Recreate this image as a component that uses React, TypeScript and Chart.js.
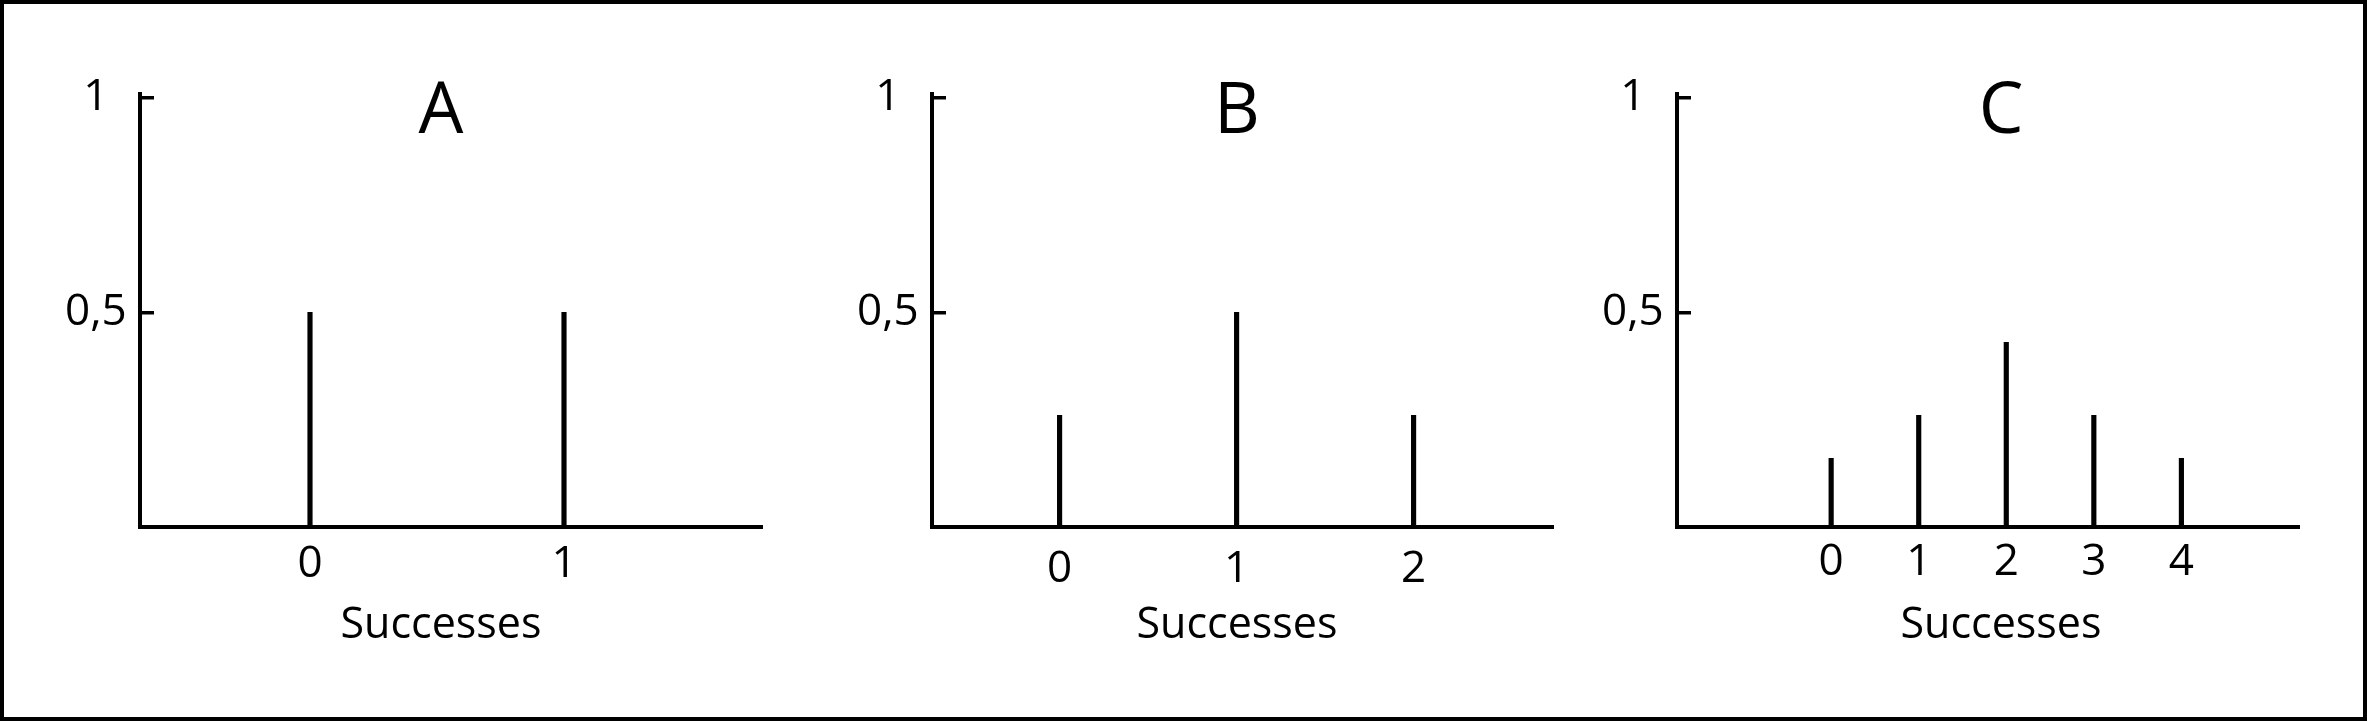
import React, { useEffect, useRef } from 'react';
import { Chart, registerables } from 'chart.js';

Chart.register(...registerables);

const FONT = '"Open Sans", "DejaVu Sans", sans-serif';

// ---- data ----
const categoriesA = [0, 1];
const valuesA = [0.5, 0.5];
const categoriesB = [0, 1, 2];
const valuesB = [0.26, 0.5, 0.26];
const categoriesC = [0, 1, 2, 3, 4];
const valuesC = [0.16, 0.26, 0.43, 0.26, 0.16];
const yTickValues = [0.5, 1];
const yTickLabels = ['0,5', '1'];
const panelTitles = ['A', 'B', 'C'];
const xAxisTitle = 'Successes';

// ---- layout (positions / sizes only) ----
const CANVAS_W = 800;
const CANVAS_H = 721;
const X_SCALE_H = 73.2;
const panels = [
  { title: panelTitles[0], cats: categoriesA, vals: valuesA, left: 41, yWidth: 99, rightPad: 80, xMin: -0.6693, xMax: 1.7756, xPad: 11.2 },
  { title: panelTitles[1], cats: categoriesB, vals: valuesB, left: 837, yWidth: 95, rightPad: 85.4, xMin: -0.7209, xMax: 2.7797, xPad: 15.7 },
  { title: panelTitles[2], cats: categoriesC, vals: valuesC, left: 1601, yWidth: 76, rightPad: 103, xMin: -1.7606, xMax: 5.3317, xPad: 9.4 },
];

function Panel({ p }: { p: any }) {
  const ref = useRef<HTMLCanvasElement>(null);
  useEffect(() => {
    if (!ref.current) return;
    const chart = new Chart(ref.current, {
      type: 'bar',
      data: {
        datasets: [
          {
            data: p.cats.map((c: number, i: number) => ({ x: c, y: p.vals[i] })),
            backgroundColor: '#000',
            borderWidth: 0,
            barThickness: 4.5,
            xAxisID: 'x',
            yAxisID: 'y',
          } as any,
        ],
      },
      options: {
        animation: false,
        responsive: false,
        maintainAspectRatio: false,
        devicePixelRatio: 1,
        events: [],
        layout: { padding: 0 },
        plugins: {
          legend: { display: false },
          tooltip: { enabled: false },
          title: {
            display: true,
            text: p.title,
            position: 'top',
            fullSize: true,
            align: 'center',
            color: '#000',
            font: { family: FONT, size: 71, weight: 'normal', lineHeight: 1 },
            padding: { top: 77, bottom: -54.5 },
          },
          subtitle: {
            display: true,
            text: xAxisTitle,
            position: 'bottom',
            fullSize: true,
            align: 'center',
            color: '#000',
            font: { family: FONT, size: 43, weight: 'normal', lineHeight: 1.2 },
            padding: { top: 0, bottom: 69.2 },
          },
        },
        scales: {
          x: {
            type: 'linear',
            position: 'bottom',
            min: p.xMin,
            max: p.xMax,
            bounds: 'data',
            offset: false,
            afterBuildTicks: (s: any) => {
              s.ticks = p.cats.map((v: number) => ({ value: v }));
            },
            afterFit: (s: any) => {
              s.height = X_SCALE_H;
            },
            ticks: {
              color: '#000',
              font: { family: FONT, size: 44 },
              padding: p.xPad,
              maxRotation: 0,
              minRotation: 0,
              autoSkip: false,
              callback: (v: any) => String(v),
            },
            grid: { display: true, offset: false, drawOnChartArea: false, drawTicks: false, lineWidth: 4, color: '#000' },
            border: { display: true, width: 4, color: '#000' },
          },
          y: {
            type: 'linear',
            position: 'left',
            min: 0,
            max: 1.01,
            bounds: 'data',
            afterBuildTicks: (s: any) => {
              s.ticks = yTickValues.map((v) => ({ value: v }));
            },
            afterFit: (s: any) => {
              s.width = p.yWidth;
            },
            ticks: {
              color: '#000',
              font: { family: FONT, size: 44 },
              padding: 27.3,
              crossAlign: 'center',
              callback: (v: any) => {
                const i = yTickValues.indexOf(v);
                return i >= 0 ? yTickLabels[i] : '';
              },
            },
            grid: {
              display: true,
              drawOnChartArea: false,
              drawTicks: true,
              tickLength: -14,
              tickWidth: 3.5,
              tickColor: '#000',
              lineWidth: 3.5,
              color: '#000',
            },
            border: { display: true, width: 4, color: '#000' },
          },
          yR: {
            type: 'linear',
            position: 'right',
            display: true,
            ticks: { display: false },
            grid: { display: false, drawTicks: false },
            border: { display: false },
            afterFit: (s: any) => {
              s.width = p.rightPad;
            },
          },
        },
      } as any,
    });
    return () => chart.destroy();
  }, []);
  return (
    <canvas
      ref={ref}
      width={CANVAS_W}
      height={CANVAS_H}
      style={{ position: 'absolute', left: p.left, top: 0, width: CANVAS_W, height: CANVAS_H }}
    />
  );
}

export default function App() {
  return (
    <div
      style={{
        position: 'fixed',
        left: 0,
        top: 0,
        width: 2367,
        height: 721,
        overflow: 'hidden',
        background: '#fff',
      }}
    >
      <div
        style={{
          position: 'absolute',
          left: 0,
          top: 0,
          width: 2367,
          height: 721,
          boxSizing: 'border-box',
          border: '4px solid #000',
        }}
      />
      {panels.map((p) => (
        <Panel key={p.title} p={p} />
      ))}
    </div>
  );
}
